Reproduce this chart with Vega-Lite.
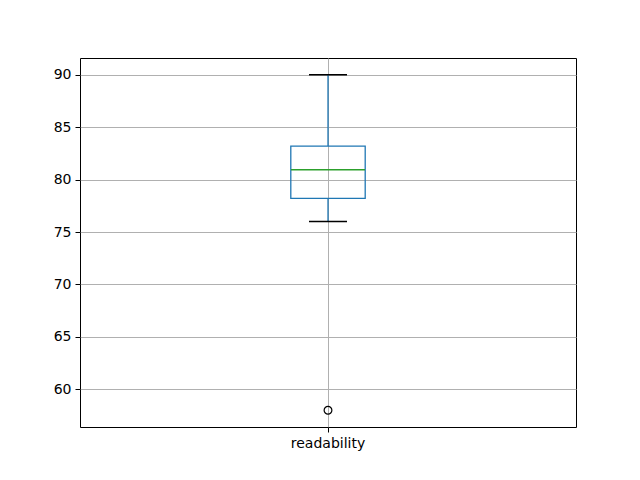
{
  "$schema": "https://vega.github.io/schema/vega-lite/v6.json",
  "width": 496,
  "height": 369,
  "autosize": "none",
  "padding": {"left": 80, "top": 58, "right": 64, "bottom": 53},
  "background": "white",
  "config": {
    "view": {"stroke": "black", "strokeWidth": 1},
    "font": "DejaVu Sans",
    "axis": {
      "labelFont": "DejaVu Sans",
      "labelFontSize": 14,
      "labelColor": "black",
      "tickColor": "black",
      "tickSize": 5,
      "tickWidth": 1,
      "domain": false,
      "grid": true,
      "gridColor": "#b0b0b0",
      "gridWidth": 1,
      "labelPadding": 4,
      "title": null
    }
  },
  "datasets": {
    "stats": [
      {"variable": "readability", "lower": 76.0, "q1": 78.2, "median": 80.95, "q3": 83.2, "upper": 90.0}
    ],
    "outliers": [
      {"variable": "readability", "value": 58.0}
    ]
  },
  "layer": [
    {
      "data": {"name": "stats"},
      "mark": {"type": "rule", "color": "#1f77b4", "strokeWidth": 1.3},
      "encoding": {
        "x": {"field": "variable", "type": "nominal", "scale": {"paddingInner": 0, "paddingOuter": 0}, "axis": {"labelAngle": 0, "bandPosition": 0.5}},
        "y": {"field": "q3", "type": "quantitative", "scale": {"domain": [56.4, 91.6], "nice": false, "zero": false}, "axis": {"values": [60, 65, 70, 75, 80, 85, 90]}},
        "y2": {"field": "upper"}
      }
    },
    {
      "data": {"name": "stats"},
      "mark": {"type": "rule", "color": "#1f77b4", "strokeWidth": 1.3},
      "encoding": {
        "x": {"field": "variable", "type": "nominal"},
        "y": {"field": "lower", "type": "quantitative"},
        "y2": {"field": "q1"}
      }
    },
    {
      "data": {"name": "stats"},
      "mark": {"type": "bar", "fill": "transparent", "stroke": "#1f77b4", "strokeWidth": 1.3, "width": {"band": 0.15}},
      "encoding": {
        "x": {"field": "variable", "type": "nominal"},
        "y": {"field": "q1", "type": "quantitative"},
        "y2": {"field": "q3"}
      }
    },
    {
      "data": {"name": "stats"},
      "mark": {"type": "tick", "color": "#2ca02c", "opacity": 1, "thickness": 1.5, "size": 74, "orient": "horizontal"},
      "encoding": {
        "x": {"field": "variable", "type": "nominal"},
        "y": {"field": "median", "type": "quantitative"}
      }
    },
    {
      "data": {"name": "stats"},
      "mark": {"type": "tick", "color": "black", "opacity": 1, "thickness": 1.5, "size": 38, "orient": "horizontal"},
      "encoding": {
        "x": {"field": "variable", "type": "nominal"},
        "y": {"field": "upper", "type": "quantitative"}
      }
    },
    {
      "data": {"name": "stats"},
      "mark": {"type": "tick", "color": "black", "opacity": 1, "thickness": 1.5, "size": 38, "orient": "horizontal"},
      "encoding": {
        "x": {"field": "variable", "type": "nominal"},
        "y": {"field": "lower", "type": "quantitative"}
      }
    },
    {
      "data": {"name": "outliers"},
      "mark": {"type": "point", "shape": "circle", "filled": false, "stroke": "black", "strokeWidth": 1.2, "size": 60, "opacity": 1},
      "encoding": {
        "x": {"field": "variable", "type": "nominal"},
        "y": {"field": "value", "type": "quantitative"}
      }
    }
  ]
}
